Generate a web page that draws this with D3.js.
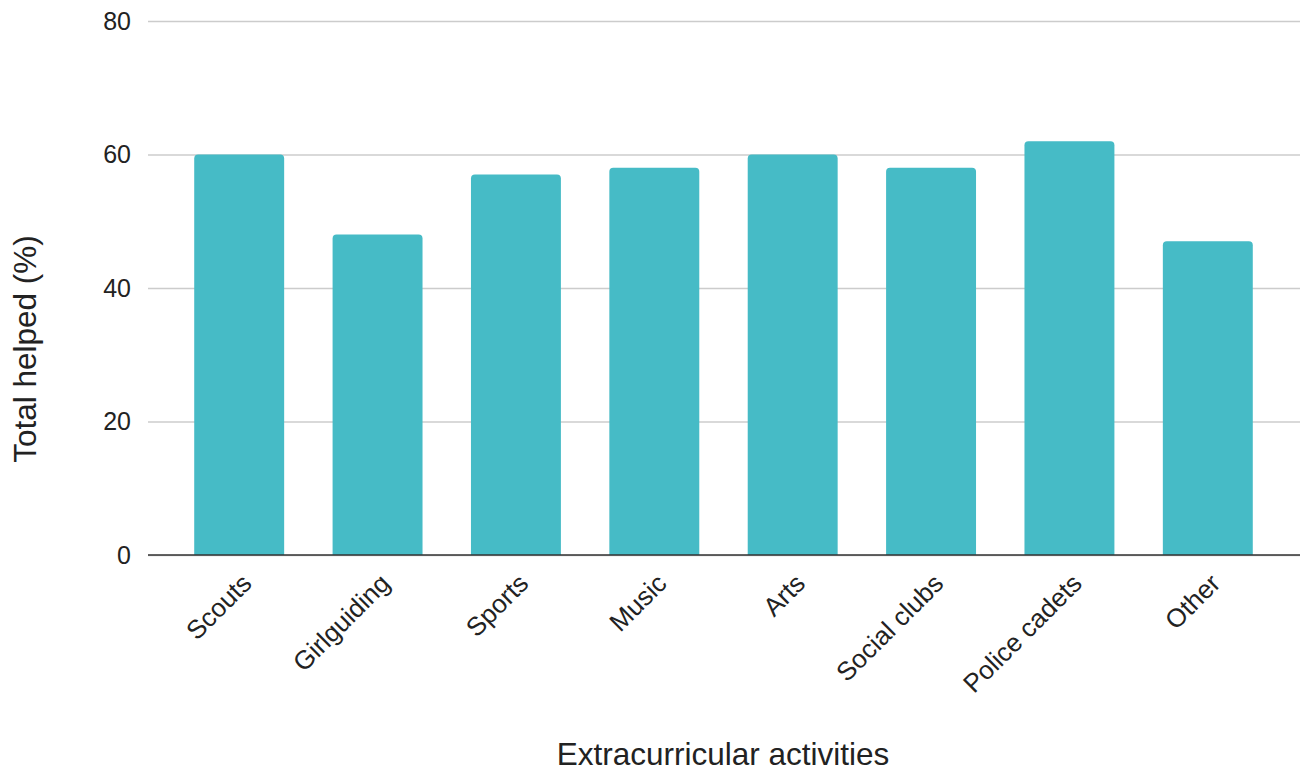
<!DOCTYPE html>
<html>
<head>
<meta charset="utf-8">
<script src="https://cdn.jsdelivr.net/npm/d3@7"></script>
<style>
  html, body { margin: 0; padding: 0; background: #fff; }
  svg { display: block; font-family: "Liberation Sans", Arial, sans-serif; }
</style>
</head>
<body>
<svg id="chart" width="1306" height="773"></svg>
<script>
// Share of respondents helped, by extracurricular activity
const categories = ["Scouts", "Girlguiding", "Sports", "Music", "Arts", "Social clubs", "Police cadets", "Other"];
const values = [60, 48, 57, 58, 60, 58, 62, 47];
const yTicks = [0, 20, 40, 60, 80];

const svg = d3.select("#chart");
const gridLeft = 148, gridRight = 1300;
const plotTop = 21, plotBottom = 555;

const x = d3.scaleBand()
  .domain(categories)
  .range([170, 1277])
  .paddingInner(0.35)
  .paddingOuter(0.175);

const y = d3.scaleLinear().domain([0, 80]).range([plotBottom, plotTop]);

// Horizontal gridlines and value labels
const yAxis = d3.axisLeft(y).tickValues(yTicks).tickSize(-(gridRight - gridLeft)).tickPadding(17);
const gy = svg.append("g").attr("transform", `translate(${gridLeft},0)`).call(yAxis);
gy.select(".domain").remove();
gy.selectAll(".tick line").attr("stroke", "#cccccc").attr("stroke-width", 1.5);
gy.selectAll(".tick text")
  .attr("fill", "#222")
  .attr("font-size", 25)
  .attr("font-family", "Liberation Sans, Arial, sans-serif");

// Bars with slightly rounded tops
const r = 4;
svg.append("g").selectAll("path")
  .data(categories.map((c, i) => ({ c, v: values[i] })))
  .join("path")
  .attr("fill", "#46bbc6")
  .attr("d", d => {
    const x0 = x(d.c), w = x.bandwidth(), y0 = y(d.v), yb = y(0);
    return `M${x0},${yb}V${y0 + r}Q${x0},${y0} ${x0 + r},${y0}H${x0 + w - r}Q${x0 + w},${y0} ${x0 + w},${y0 + r}V${yb}Z`;
  });

// Baseline
svg.append("line")
  .attr("x1", gridLeft).attr("x2", gridRight)
  .attr("y1", y(0)).attr("y2", y(0))
  .attr("stroke", "#333").attr("stroke-width", 1.5);

// Category labels, rotated
const xAxis = d3.axisBottom(x).tickSize(0).tickPadding(0);
const gx = svg.append("g").attr("transform", `translate(0,${plotBottom})`).call(xAxis);
gx.select(".domain").remove();
gx.selectAll(".tick text")
  .attr("fill", "#222")
  .attr("font-size", 26)
  .attr("font-family", "Liberation Sans, Arial, sans-serif")
  .attr("text-anchor", "end")
  .attr("dy", 0)
  .attr("transform", "translate(14,30) rotate(-45)");

// Axis titles
svg.append("text")
  .attr("x", 723).attr("y", 765)
  .attr("text-anchor", "middle")
  .attr("font-size", 31.5)
  .attr("fill", "#222")
  .text("Extracurricular activities");

svg.append("text")
  .attr("transform", `translate(36,349) rotate(-90)`)
  .attr("text-anchor", "middle")
  .attr("font-size", 31.5)
  .attr("fill", "#222")
  .text("Total helped (%)");
</script>
</body>
</html>
